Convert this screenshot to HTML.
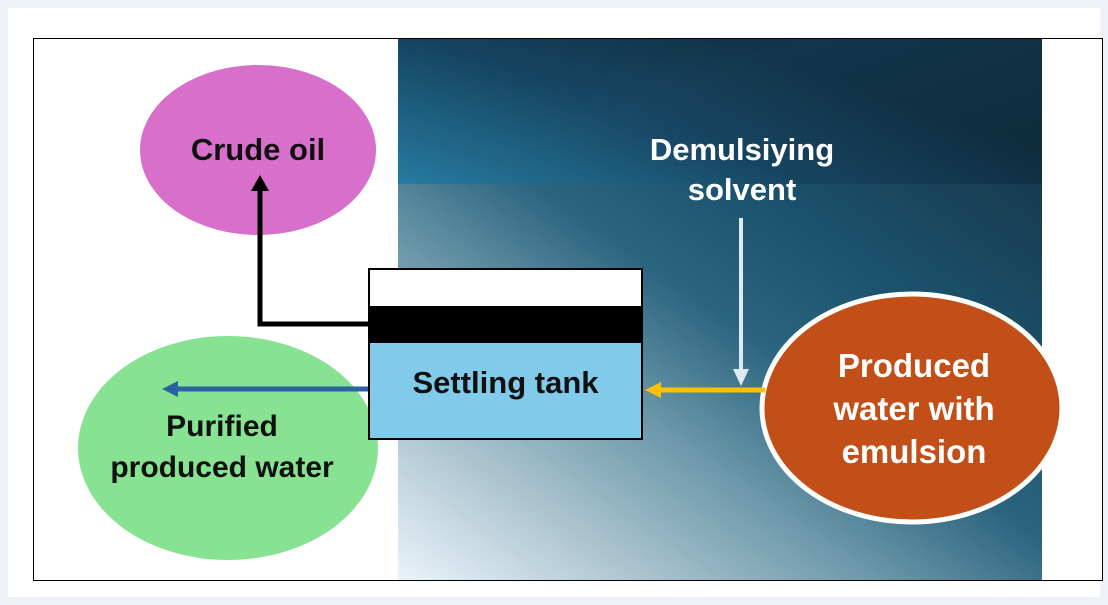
<!DOCTYPE html>
<html><head><style>
body{margin:0;width:1108px;height:605px;background:#eef2f8;position:relative;overflow:hidden;font-family:"Liberation Sans",sans-serif;font-weight:bold}
.t{position:absolute;text-align:center;white-space:nowrap}
</style></head><body>
<div style="position:absolute;left:8px;top:8px;width:1092px;height:589px;background:#fff"></div>
<div style="position:absolute;left:33px;top:38px;width:1068px;height:541px;border:1px solid #000;background:#fff"></div>
<div style="position:absolute;left:398px;top:39px;width:644px;height:145px;background:linear-gradient(160deg,#0d2c40 0%,#13354a 40%,#0f2a3c 100%)"></div>
<div style="position:absolute;left:398px;top:39px;width:644px;height:145px;background:linear-gradient(20deg,rgba(40,130,170,.9) 0%,rgba(30,100,140,.4) 40%,rgba(0,0,0,0) 70%)"></div>
<div style="position:absolute;left:398px;top:184px;width:644px;height:396px;background:linear-gradient(35deg,#eaf3fa 0%,#a6c0cc 22%,#6a97a9 40%,#2b647e 58%,#1b536d 75%,#173a4e 100%)"></div>
<svg width="1108" height="605" style="position:absolute;left:0;top:0">
<ellipse cx="258" cy="150" rx="118" ry="85" fill="#d86fcb"/>
<ellipse cx="228" cy="448" rx="150" ry="112" fill="#87e291"/>
<ellipse cx="912" cy="408" rx="150" ry="114" fill="#c24f17" stroke="#fff" stroke-width="5"/>
<polyline points="368,324 260,324 260,188" fill="none" stroke="#000" stroke-width="5"/>
<polygon points="251,191 269,191 260,175" fill="#000"/>
<line x1="368" y1="389" x2="175" y2="389" stroke="#2a63a0" stroke-width="5"/>
<polygon points="178,381 178,397 162,389" fill="#2a63a0"/>
<line x1="765" y1="390" x2="658" y2="390" stroke="#ffc000" stroke-width="5"/>
<polygon points="661,382 661,398 645,390" fill="#ffc000"/>
<line x1="741" y1="218" x2="741" y2="372" stroke="#dde9f5" stroke-width="4"/>
<polygon points="733,369 749,369 741,386" fill="#dde9f5"/>
<rect x="369" y="269" width="273" height="170" fill="#82caea" stroke="#000" stroke-width="2"/>
<rect x="370" y="270" width="271" height="37" fill="#fff"/>
<rect x="370" y="306" width="271" height="37" fill="#000"/>
</svg>
<div class="t" style="left:140px;top:132px;width:236px;font-size:31px;color:#111">Crude oil</div>
<div class="t" style="left:72px;top:406px;width:300px;font-size:30px;line-height:41px;color:#111">Purified<br>produced water</div>
<div class="t" style="left:369px;top:365px;width:273px;font-size:31px;color:#111">Settling tank</div>
<div class="t" style="left:622px;top:130px;width:240px;font-size:31px;line-height:40px;color:#fff">Demulsiying<br>solvent</div>
<div class="t" style="left:764px;top:344px;width:300px;font-size:33px;line-height:43px;color:#fff">Produced<br>water with<br>emulsion</div>
</body></html>
